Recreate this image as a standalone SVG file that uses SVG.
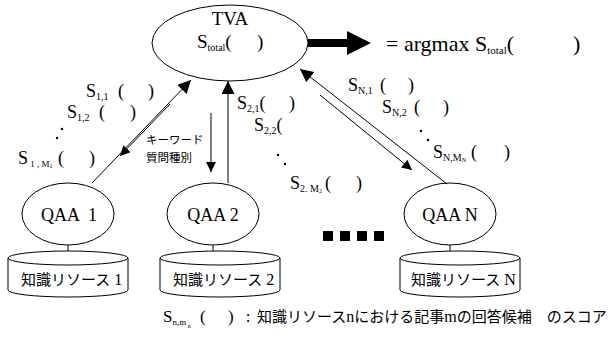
<svg xmlns="http://www.w3.org/2000/svg" width="610" height="340" viewBox="0 0 610 340">
<style>
.t{font-family:"Liberation Serif","Times New Roman",serif;fill:#000;white-space:pre}
.j{font-family:"Noto Sans CJK JP","Noto Sans",sans-serif;fill:#000;white-space:pre}
.s{fill:none;stroke:#000;stroke-width:1}
.node{fill:#fff;stroke:#000;stroke-width:1}
.d{fill:#000}
</style>
<defs>
<marker id="ah" viewBox="0 0 10 10" refX="10" refY="5" markerWidth="11" markerHeight="10" markerUnits="userSpaceOnUse" orient="auto"><path d="M0,0 L10,5 L0,10 z" fill="#000"/></marker>
<marker id="ahb" viewBox="0 0 10 10" refX="10" refY="5" markerWidth="15" markerHeight="13" markerUnits="userSpaceOnUse" orient="auto"><path d="M0,0 L10,5 L0,10 z" fill="#000"/></marker>
</defs>

<g id="tva">
<ellipse class="node" cx="230" cy="43" rx="78" ry="38"/>
<text class="t" x="230" y="25" font-size="19" text-anchor="middle">TVA</text>
<text class="t" x="197" y="48" font-size="19">S<tspan font-size="10" dy="3">total</tspan><tspan dy="-3">(</tspan><tspan x="257">)</tspan></text>
</g>

<g id="result">
<text class="t" x="386" y="51" font-size="22">= argmax S<tspan font-size="11" dy="3">total</tspan><tspan dy="-3">(</tspan><tspan x="573">)</tspan></text>
</g>

<g id="qaa1">
<ellipse class="node" cx="68" cy="214" rx="46" ry="31"/>
<text class="t" x="69" y="221" font-size="18" text-anchor="middle">QAA  1</text>
</g>
<g id="qaa2">
<ellipse class="node" cx="213" cy="214" rx="46" ry="31"/>
<text class="t" x="213" y="221" font-size="18" text-anchor="middle">QAA 2</text>
</g>
<g id="qaaN">
<ellipse class="node" cx="450" cy="214" rx="46" ry="31"/>
<text class="t" x="450" y="221" font-size="18" text-anchor="middle">QAA N</text>
</g>

<g id="res1">
<path class="node" d="M8,258 L8,290 A60,7 0 0 0 128,290 L128,258"/>
<ellipse class="node" cx="68" cy="258" rx="60" ry="7"/>
<text class="j" x="21" y="285" font-size="15">知識リソース<tspan class="t" font-size="16"> 1</tspan></text>
</g>
<g id="res2">
<path class="node" d="M160,258 L160,290 A60,7 0 0 0 280,290 L280,258"/>
<ellipse class="node" cx="220" cy="258" rx="60" ry="7"/>
<text class="j" x="173" y="285" font-size="15">知識リソース<tspan class="t" font-size="16"> 2</tspan></text>
</g>
<g id="resN">
<path class="node" d="M400,258 L400,290 A60,7 0 0 0 520,290 L520,258"/>
<ellipse class="node" cx="460" cy="258" rx="60" ry="7"/>
<text class="j" x="411" y="285" font-size="15">知識リソース<tspan class="t" font-size="16"> N</tspan></text>
</g>

<g id="connectors">
<line class="s" x1="68" y1="245" x2="68" y2="251"/>
<line class="s" x1="213" y1="245" x2="213" y2="251"/>
<line class="s" x1="450" y1="245" x2="450" y2="251"/>
<line class="s" x1="92" y1="183" x2="191" y2="80" stroke-width="1.3" marker-end="url(#ahb)"/>
<line class="s" x1="170" y1="104" x2="120" y2="156" marker-end="url(#ah)"/>
<line class="s" x1="211" y1="113" x2="211" y2="172" stroke="#444" marker-end="url(#ah)"/>
<line class="s" x1="228" y1="183" x2="228" y2="81" stroke-width="2" marker-end="url(#ahb)"/>
<line class="s" x1="447" y1="184" x2="300" y2="69" stroke-width="1.3" marker-end="url(#ahb)"/>
<line class="s" x1="320" y1="95" x2="412" y2="170" marker-end="url(#ah)"/>
<line x1="308" y1="43" x2="350" y2="43" stroke="#000" stroke-width="8"/>
<path d="M347,31 L371,43 L347,55 z" fill="#000"/>
</g>

<g id="labels">
<text class="t" x="86" y="97" font-size="18">S<tspan font-size="10" dy="3">1,1</tspan><tspan dy="-3" x="118">(</tspan><tspan x="148">)</tspan></text>
<text class="t" x="67" y="118" font-size="18">S<tspan font-size="10" dy="3">1,2</tspan><tspan dy="-3" x="99">(</tspan><tspan x="130">)</tspan></text>
<circle class="d" cx="62" cy="129" r="1.2"/>
<circle class="d" cx="57" cy="138" r="1.2"/>
<text class="t" x="18" y="164" font-size="18">S<tspan font-size="9" dy="3"> 1 , M</tspan><tspan font-size="6" dy="1">1</tspan><tspan dy="-4" x="58">(</tspan><tspan x="89">)</tspan></text>
<text class="j" x="146" y="144" font-size="11.5">キーワード</text>
<text class="j" x="146" y="162" font-size="11.5">質問種別</text>

<text class="t" x="237" y="109" font-size="18">S<tspan font-size="10" dy="3">2,1</tspan><tspan dy="-3">(</tspan><tspan x="289">)</tspan></text>
<text class="t" x="254" y="131" font-size="18">S<tspan font-size="10" dy="3">2,2</tspan><tspan dy="-3">(</tspan></text>
<circle class="d" cx="278" cy="155" r="1.2"/>
<circle class="d" cx="285" cy="164" r="1.2"/>
<text class="t" x="290" y="189" font-size="18">S<tspan font-size="10" dy="3">2. M</tspan><tspan font-size="6" dy="1">2</tspan><tspan dy="-4" x="325">(</tspan><tspan x="356">)</tspan></text>

<text class="t" x="348" y="91" font-size="18">S<tspan font-size="10" dy="3">N,1</tspan><tspan dy="-3" x="380">(</tspan><tspan x="408">)</tspan></text>
<text class="t" x="382" y="113" font-size="18">S<tspan font-size="10" dy="3">N,2</tspan><tspan dy="-3" x="414">(</tspan><tspan x="443">)</tspan></text>
<circle class="d" cx="421" cy="131" r="1.2"/>
<circle class="d" cx="428" cy="140" r="1.2"/>
<text class="t" x="433" y="158" font-size="18">S<tspan font-size="10" dy="3">N,M</tspan><tspan font-size="6" dy="1">N</tspan><tspan dy="-4" x="471">(</tspan><tspan x="504">)</tspan></text>

<rect x="323" y="231" width="10" height="10" fill="#000"/>
<rect x="340" y="231" width="10" height="10" fill="#000"/>
<rect x="357" y="231" width="10" height="10" fill="#000"/>
<rect x="374" y="231" width="10" height="10" fill="#000"/>

<text class="t" x="163" y="322" font-size="17">S<tspan font-size="9" dy="3">n,m</tspan><tspan font-size="6" dy="3"> n</tspan><tspan dy="-6" x="200">(</tspan><tspan x="228">)</tspan></text>
<text class="j" x="246" y="322" font-size="15">:  知識リソース<tspan class="t" font-size="16">n</tspan>における記事<tspan class="t" font-size="16">m</tspan>の回答候補　のスコア</text>
</g>
</svg>
